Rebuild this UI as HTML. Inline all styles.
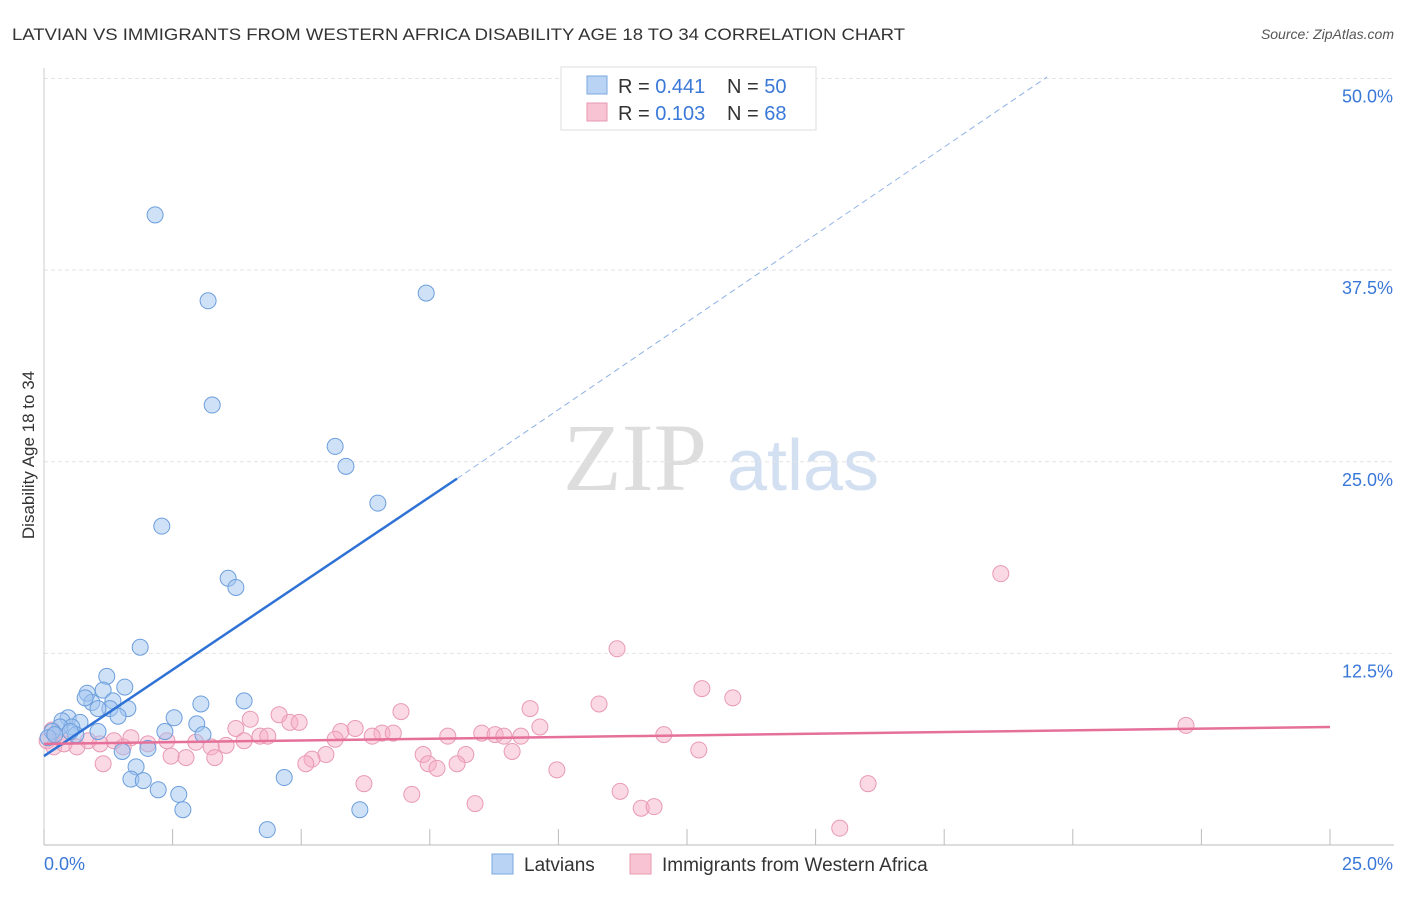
<!DOCTYPE html>
<html><head><meta charset="utf-8"><style>
body{margin:0;background:#fff;font-family:"Liberation Sans",sans-serif}
svg text{font-family:"Liberation Sans",sans-serif}
</style></head><body>
<svg id="c" width="1406" height="892" xmlns="http://www.w3.org/2000/svg">
<text x="12" y="40" font-size="17" fill="#333" textLength="893" lengthAdjust="spacingAndGlyphs">LATVIAN VS IMMIGRANTS FROM WESTERN AFRICA DISABILITY AGE 18 TO 34 CORRELATION CHART</text>
<text x="1394" y="39" font-size="14" fill="#555" font-style="italic" text-anchor="end">Source: ZipAtlas.com</text>
<text x="34" y="455" font-size="17" fill="#333" text-anchor="middle" transform="rotate(-90 34 455)">Disability Age 18 to 34</text>
<text x="635" y="490" font-size="96" fill="#ddd" text-anchor="middle" style="font-family:'Liberation Serif',serif">ZIP</text>
<text x="803" y="490" font-size="72" fill="#d3e0f2" text-anchor="middle">atlas</text>
<g id="grid"></g><g id="pts"></g><g id="lines"></g>
<g>
<rect x="561" y="67" width="255" height="63" fill="#fff" stroke="#ddd"/>
<rect x="587" y="76" width="20" height="18" fill="#b9d3f5" stroke="#7aa7e0"/>
<rect x="587" y="103" width="20" height="18" fill="#f8c4d4" stroke="#e899b2"/>
<text x="618" y="93" font-size="20" fill="#333">R = <tspan fill="#3a78d8">0.441</tspan></text>
<text x="727" y="93" font-size="20" fill="#333">N = <tspan fill="#3a78d8">50</tspan></text>
<text x="618" y="120" font-size="20" fill="#333">R = <tspan fill="#3a78d8">0.103</tspan></text>
<text x="727" y="120" font-size="20" fill="#333">N = <tspan fill="#3a78d8">68</tspan></text>
</g>
<g>
<rect x="492" y="854" width="21" height="20" fill="#b9d3f5" stroke="#7aa7e0"/>
<text x="524" y="871" font-size="19" fill="#333">Latvians</text>
<rect x="630" y="854" width="21" height="20" fill="#f8c4d4" stroke="#e899b2"/>
<text x="662" y="871" font-size="19" fill="#333">Immigrants from Western Africa</text>
</g>
</svg>
<script>
const yTicks=[12.5,25,37.5,50];
const yTickLabels=["12.5%","25.0%","37.5%","50.0%"];
const xTickVals=[0,2.5,5,7.5,10,12.5,15,17.5,20,22.5,25];
const blueX=[2.16,3.19,7.43,3.27,5.66,5.87,6.49,2.29,3.58,3.73,1.87,1.22,1.57,1.15,0.84,3.89,3.05,0.93,0.80,1.34,1.63,1.28,1.05,0.47,0.35,1.44,2.53,2.97,0.70,0.54,0.31,0.16,0.08,0.21,0.62,1.05,2.35,3.09,1.52,2.02,1.79,1.69,1.93,2.22,2.62,2.70,4.67,6.14,4.34,0.51];
const blueY=[41.1,35.5,36.0,28.7,26.0,24.7,22.3,20.8,17.4,16.8,12.9,11.0,10.3,10.1,9.9,9.4,9.2,9.3,9.6,9.4,8.9,8.9,8.9,8.3,8.1,8.4,8.3,7.9,8.0,7.7,7.7,7.4,7.0,7.2,7.2,7.4,7.4,7.2,6.1,6.3,5.1,4.3,4.2,3.6,3.3,2.3,4.4,2.3,1.0,7.4];
const pinkX=[18.6,11.14,12.79,13.39,10.79,9.45,6.94,22.2,4.57,4.01,3.73,4.78,4.96,6.05,5.77,6.57,6.79,7.85,8.51,8.77,8.94,9.27,9.64,12.05,6.38,5.66,4.20,3.89,4.35,3.54,3.25,2.95,2.39,2.02,1.69,1.54,1.36,1.09,0.86,0.64,0.31,0.16,0.06,0.19,0.39,7.37,8.20,5.48,5.21,5.09,2.76,2.47,3.32,1.15,7.47,7.64,8.03,9.10,12.73,9.97,6.22,7.15,11.20,8.38,11.61,11.86,16.02,15.47];
const pinkY=[17.7,12.8,10.2,9.6,9.2,8.9,8.7,7.8,8.5,8.2,7.6,8.0,8.0,7.6,7.4,7.3,7.3,7.1,7.3,7.2,7.1,7.1,7.7,7.2,7.1,6.9,7.1,6.8,7.1,6.5,6.4,6.7,6.8,6.6,7.0,6.4,6.8,6.6,6.8,6.4,7.0,7.5,6.8,6.4,6.6,5.9,5.9,5.9,5.6,5.3,5.7,5.8,5.7,5.3,5.3,5.0,5.3,6.1,6.2,4.9,4.0,3.3,3.5,2.7,2.4,2.5,4.0,1.1];
const blueTrend=[[0,5.8],[8.03,23.9],[19.5,50.1]];
const pinkTrend=[[0,6.6],[25,7.7]];
const X=v=>44+v/25*1286, Y=v=>845-v*15.33;
const NS="http://www.w3.org/2000/svg";
function mk(t,a,p){const e=document.createElementNS(NS,t);for(const k in a)e.setAttribute(k,a[k]);p.appendChild(e);return e;}
const grid=document.getElementById('grid'),pts=document.getElementById('pts'),lines=document.getElementById('lines');
yTicks.forEach((v,i)=>{const g=mk('line',{x1:44,x2:1394,y1:Y(v),y2:Y(v),stroke:'#e4e4e4','stroke-dasharray':'4,3'},grid);


const t=mk('text',{x:1393,y:Y(v)+24,'font-size':18,fill:'#3a78d8','text-anchor':'end'},grid);t.textContent=yTickLabels[i];

});
const ax=mk('line',{x1:44,x2:1394,y1:845,y2:845,stroke:'#bbb'},grid);


const ay=mk('line',{x1:44,x2:44,y1:68,y2:845,stroke:'#ccc'},grid);


xTickVals.forEach(v=>{const t=mk('line',{x1:X(v),x2:X(v),y1:829,y2:845,stroke:'#bbb'},grid);

});
[["0.0%",44,'start'],["25.0%",1393,'end']].forEach(a=>{const t=mk('text',{x:a[1],y:870,'font-size':18,fill:'#3a78d8','text-anchor':a[2]},grid);t.textContent=a[0];

});
pinkX.forEach((v,i)=>{const c=mk('circle',{cx:X(v),cy:Y(pinkY[i]),r:8,fill:'rgba(246,170,196,0.45)',stroke:'#e89ab4','stroke-width':1},pts);

});
blueX.forEach((v,i)=>{const c=mk('circle',{cx:X(v),cy:Y(blueY[i]),r:8,fill:'rgba(160,196,240,0.5)',stroke:'#6c9edc','stroke-width':1},pts);

});
const b1=mk('line',{x1:X(blueTrend[0][0]),y1:Y(blueTrend[0][1]),x2:X(blueTrend[1][0]),y2:Y(blueTrend[1][1]),stroke:'#2f72d6','stroke-width':2.5},lines);


const b2=mk('line',{x1:X(blueTrend[1][0]),y1:Y(blueTrend[1][1]),x2:X(blueTrend[2][0]),y2:Y(blueTrend[2][1]),stroke:'#8fb2e6','stroke-width':1,'stroke-dasharray':'6,4'},lines);


const p1=mk('line',{x1:X(pinkTrend[0][0]),y1:Y(pinkTrend[0][1]),x2:X(pinkTrend[1][0]),y2:Y(pinkTrend[1][1]),stroke:'#e5709a','stroke-width':2.5},lines);


</script>
</body></html>
